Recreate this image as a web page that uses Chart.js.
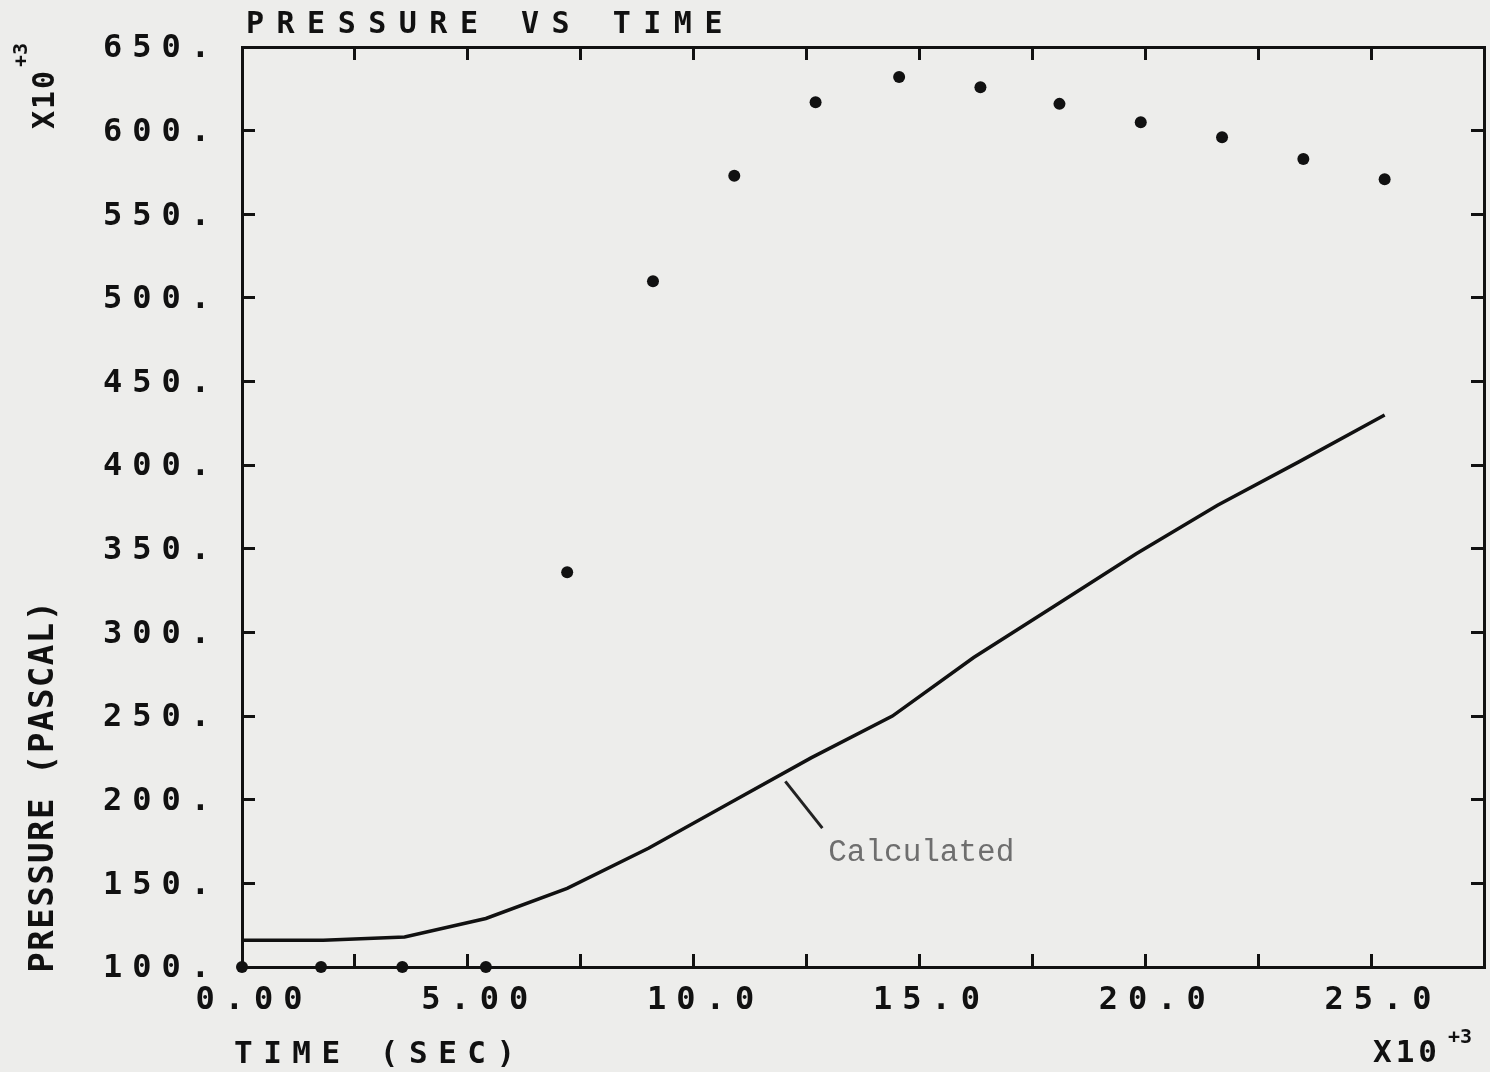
<!DOCTYPE html>
<html>
<head>
<meta charset="utf-8">
<script src="https://cdn.jsdelivr.net/npm/chart.js@4"></script>
<style>
    body { margin: 0; background: #ededeb; }
    canvas { display: block; }
</style>
</head>
<body>
<canvas id="pressureChart" width="1490" height="1072"></canvas>
<script>
// data (time in 10^3 s, pressure in 10^3 Pa)
let measuredTime = [0, 1.75, 3.55, 5.4, 7.2, 9.1, 10.9, 12.7, 14.55, 16.35, 18.1, 19.9, 21.7, 23.5, 25.3]
let measuredPressure = [100, 100, 100, 100, 336, 510, 573, 617, 632, 626, 616, 605, 596, 583, 571]
let calcTime = [0, 1.8, 3.6, 5.4, 7.2, 9.0, 10.8, 12.6, 14.4, 16.2, 18.0, 19.8, 21.6, 23.4, 25.3]
let calcPressure = [116, 116, 118, 129, 147, 171, 198, 225, 250, 285, 316, 347, 376, 402, 430]

let xMin = 0, xMax = 27.5, xStep = 2.5
let yMin = 100, yMax = 650, yStep = 50

let titleText = "PRESSURE VS TIME"
let xTitle = "TIME (SEC)"
let yTitle = "PRESSURE (PASCAL)"
let noteText = "Calculated"

let plotFont = "bold 30px 'DejaVu Sans Mono'"
let ink = "#111"


function toPoints(xs, ys) {
    return xs.map((x, i) => ({ x: x, y: ys[i] }))
}


// plotter style letter spacing for everything chart.js writes
let spacing = {
    id: "spacing",
    beforeDraw(chart) {
        chart.ctx.fillStyle = "#ededeb"
        chart.ctx.fillRect(0, 0, chart.width, chart.height)
        chart.ctx.letterSpacing = "10px"
    },
    afterDraw(chart) {
        chart.ctx.letterSpacing = "0px"
    }
}


function say(ctx, text, x, y, font, gap, align) {
    ctx.font = font
    ctx.letterSpacing = gap + "px"
    ctx.textAlign = align || "left"
    ctx.textBaseline = "middle"
    ctx.fillText(text, x, y)
}


// titles, multipliers and the note on the curve
let labels = {
    id: "labels",
    afterDraw(chart) {
        let ctx = chart.ctx
        let area = chart.chartArea
        let xs = chart.scales.x
        let ys = chart.scales.y
        ctx.save()
        ctx.fillStyle = ink

        say(ctx, titleText, area.left + 4, 25, plotFont, 12.5)
        say(ctx, xTitle, area.left - 8, 1055, "bold 31px 'DejaVu Sans Mono'", 10.5)

        //x10+3 under the x axis
        say(ctx, "X10", 1373, 1054, "bold 31px 'DejaVu Sans Mono'", 4)
        say(ctx, "+3", 1448, 1038, "bold 20px 'DejaVu Sans Mono'", 0)

        //rotated y title and multiplier
        ctx.save()
        ctx.translate(44, 786)
        ctx.rotate(-Math.PI / 2)
        say(ctx, yTitle, 0, 0, "bold 34px 'DejaVu Sans Mono'", 1.5, "center")
        ctx.restore()

        ctx.save()
        ctx.translate(46, 129)
        ctx.rotate(-Math.PI / 2)
        say(ctx, "X10", 0, 0, "bold 30px 'DejaVu Sans Mono'", 2)
        say(ctx, "+3", 62, -24, "bold 20px 'DejaVu Sans Mono'", 0)
        ctx.restore()

        //leader line and note
        ctx.strokeStyle = "#222"
        ctx.lineWidth = 3
        ctx.beginPath()
        ctx.moveTo(xs.getPixelForValue(12.03), ys.getPixelForValue(211))
        ctx.lineTo(xs.getPixelForValue(12.85), ys.getPixelForValue(183))
        ctx.stroke()

        ctx.fillStyle = "#6e6e6e"
        say(ctx, noteText, xs.getPixelForValue(12.98), ys.getPixelForValue(168), "31px 'Liberation Mono'", 0)
        ctx.restore()
    }
}


function axis(position, min, max, step, size, showLabels, labelFn) {
    return {
        type: "linear",
        position: position,
        min: min,
        max: max,
        afterFit: (s) => {
            if (position == "left" || position == "right") s.width = size
            else s.height = size
            // label padding should not push the plot area in
            s.paddingLeft = 0
            s.paddingRight = 0
            s.paddingTop = 0
            s.paddingBottom = 0
        },
        border: { display: true, color: ink, width: 3 },
        grid: {
            drawOnChartArea: false,
            drawTicks: true,
            tickLength: -13,
            tickWidth: 3,
            tickColor: ink,
            color: ink
        },
        ticks: {
            display: showLabels,
            stepSize: step,
            autoSkip: false,
            maxRotation: 0,
            minRotation: 0,
            color: ink,
            font: { family: "DejaVu Sans Mono", size: 32, weight: "bold" },
            padding: position == "left" ? 35 : 27,
            labelOffset: position == "bottom" ? 12 : 2,
            callback: labelFn
        }
    }
}


new Chart(document.getElementById("pressureChart"), {
    type: "scatter",
    data: {
        datasets: [
            {
                label: "Measured",
                data: toPoints(measuredTime, measuredPressure),
                backgroundColor: ink,
                borderColor: ink,
                pointRadius: 6,
                borderWidth: 0,
                clip: false
            },
            {
                label: "Calculated",
                data: toPoints(calcTime, calcPressure),
                showLine: true,
                borderColor: ink,
                borderWidth: 3.5,
                pointRadius: 0,
                tension: 0
            }
        ]
    },
    options: {
        responsive: false,
        animation: false,
        devicePixelRatio: 1,
        layout: { padding: 0 },
        plugins: {
            legend: { display: false },
            tooltip: { enabled: false }
        },
        scales: {
            x: axis("bottom", xMin, xMax, xStep, 105, true, (v) => (v % 5 == 0 && v < xMax) ? v.toPrecision(3) : ""),
            x2: axis("top", xMin, xMax, xStep, 47, false, () => ""),
            y: axis("left", yMin, yMax, yStep, 242, true, (v) => v + "."),
            y2: axis("right", yMin, yMax, yStep, 6, false, () => "")
        }
    },
    plugins: [spacing, labels]
})
</script>
</body>
</html>
